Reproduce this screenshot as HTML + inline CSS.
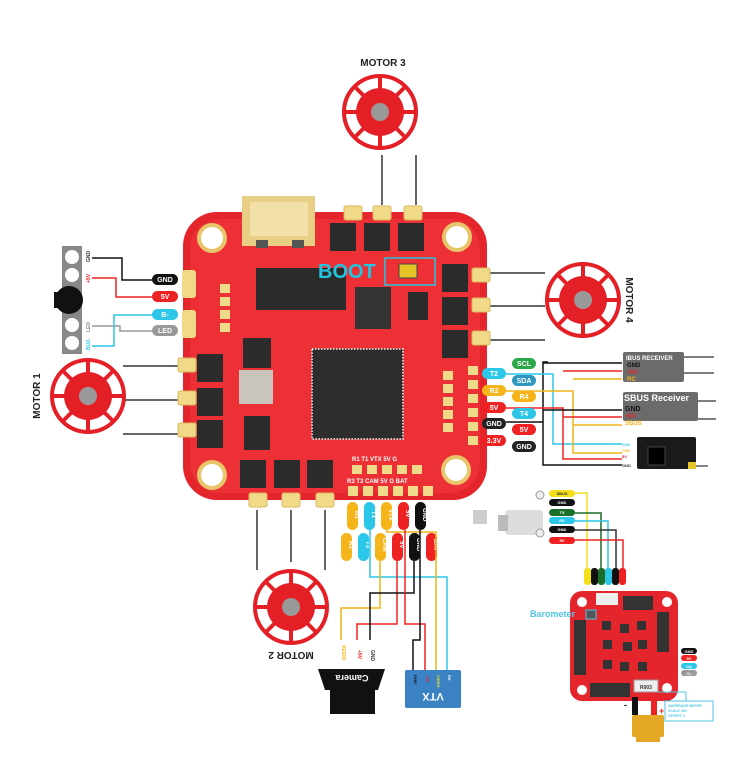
<!DOCTYPE html>
<html><head><meta charset="utf-8"><style>
html,body{margin:0;padding:0;background:#fff}
svg{display:block}
text{font-family:"Liberation Sans",sans-serif;font-weight:bold}
</style></head><body>
<svg width="753" height="758" viewBox="0 0 753 758" xmlns="http://www.w3.org/2000/svg">
<defs>
<g id="motor">
<circle r="36" fill="none" stroke="#e51f26" stroke-width="4"/>
<g stroke="#e51f26" stroke-width="4">
<line x1="0" y1="-36" x2="0" y2="36"/><line x1="-36" y1="0" x2="36" y2="0"/>
<line x1="-25" y1="-25" x2="25" y2="25"/><line x1="-25" y1="25" x2="25" y2="-25"/>
</g>
<circle r="24" fill="#e51f26"/>
<circle r="9" fill="#999"/>
</g>
<g id="pad"><rect x="-9" y="-7" width="18" height="14" rx="2" fill="#f1d98a" stroke="#d8b95a"/></g>
<g id="fet"><rect width="26" height="28" fill="#2b2b2b"/></g>
</defs>

<!-- Motors -->
<text x="383" y="66" font-size="10" text-anchor="middle" fill="#222">MOTOR 3</text>
<use href="#motor" x="380" y="112"/>
<line x1="382" y1="155" x2="382" y2="205" stroke="#333" stroke-width="1.5"/>
<line x1="416" y1="155" x2="416" y2="205" stroke="#333" stroke-width="1.5"/>

<use href="#motor" x="583" y="300"/>
<text transform="translate(626,300) rotate(90)" font-size="10" text-anchor="middle" fill="#222">MOTOR 4</text>
<g stroke="#333" stroke-width="1.5"><line x1="488" y1="273" x2="545" y2="273"/><line x1="488" y1="306" x2="545" y2="306"/><line x1="488" y1="340" x2="545" y2="340"/></g>

<use href="#motor" x="88" y="396"/>
<text transform="translate(40,396) rotate(-90)" font-size="10" text-anchor="middle" fill="#222">MOTOR 1</text>
<g stroke="#333" stroke-width="1.5"><line x1="123" y1="366" x2="185" y2="366"/><line x1="125" y1="400" x2="185" y2="400"/><line x1="123" y1="434" x2="185" y2="434"/></g>

<use href="#motor" x="291" y="607"/>
<text transform="translate(291,652) rotate(180)" font-size="10" text-anchor="middle" fill="#222">MOTOR 2</text>
<g stroke="#333" stroke-width="1.5"><line x1="257" y1="510" x2="257" y2="570"/><line x1="291" y1="510" x2="291" y2="562"/><line x1="325" y1="510" x2="325" y2="570"/></g>

<!-- Main board -->
<rect x="183" y="212" width="304" height="288" rx="34" fill="#e4252b"/>
<rect x="190" y="219" width="290" height="274" rx="30" fill="#ec3036"/>
<g fill="#fff" stroke="#e8c46a" stroke-width="4">
<circle cx="212" cy="238" r="13"/><circle cx="457" cy="237" r="13"/>
<circle cx="212" cy="475" r="13"/><circle cx="456" cy="470" r="13"/>
</g>
<!-- USB -->
<rect x="242" y="196" width="73" height="50" fill="#e9cf86"/>
<rect x="250" y="202" width="58" height="34" fill="#f3e0a8"/>
<rect x="256" y="240" width="12" height="8" fill="#555"/><rect x="292" y="240" width="12" height="8" fill="#555"/>
<!-- pads top -->
<use href="#pad" x="353" y="213"/><use href="#pad" x="382" y="213"/><use href="#pad" x="413" y="213"/>
<!-- pads right -->
<use href="#pad" x="481" y="275"/><use href="#pad" x="481" y="305"/><use href="#pad" x="481" y="338"/>
<!-- pads left -->
<use href="#pad" x="187" y="365"/><use href="#pad" x="187" y="398"/><use href="#pad" x="187" y="430"/>
<rect x="182" y="270" width="14" height="28" rx="3" fill="#f1d98a"/><rect x="182" y="310" width="14" height="28" rx="3" fill="#f1d98a"/>
<!-- pads bottom -->
<use href="#pad" x="258" y="500"/><use href="#pad" x="291" y="500"/><use href="#pad" x="325" y="500"/>
<!-- FETs -->
<use href="#fet" x="330" y="223"/><use href="#fet" x="364" y="223"/><use href="#fet" x="398" y="223"/>
<use href="#fet" x="442" y="264"/><use href="#fet" x="442" y="297"/><use href="#fet" x="442" y="330"/>
<use href="#fet" x="197" y="354"/><use href="#fet" x="197" y="388"/><use href="#fet" x="197" y="420"/>
<use href="#fet" x="240" y="460"/><use href="#fet" x="274" y="460"/><use href="#fet" x="307" y="460"/>
<!-- chips -->
<rect x="256" y="268" width="90" height="42" fill="#2b2b2b"/>
<rect x="355" y="287" width="36" height="42" fill="#333"/>
<rect x="312" y="349" width="91" height="90" fill="#2d2d2d" stroke="#ccc" stroke-width="2" stroke-dasharray="1.5 1.5"/>
<rect x="243" y="338" width="28" height="30" fill="#2b2b2b"/>
<rect x="239" y="370" width="34" height="34" fill="#c9c4bc"/>
<rect x="244" y="416" width="26" height="34" fill="#2b2b2b"/>
<rect x="408" y="292" width="20" height="28" fill="#2b2b2b"/>
<!-- pin pads -->
<g fill="#f1d98a">
<rect x="220" y="284" width="10" height="9"/><rect x="220" y="297" width="10" height="9"/><rect x="220" y="310" width="10" height="9"/><rect x="220" y="323" width="10" height="9"/>
<rect x="443" y="371" width="10" height="9"/><rect x="443" y="384" width="10" height="9"/><rect x="443" y="397" width="10" height="9"/><rect x="443" y="410" width="10" height="9"/><rect x="443" y="423" width="10" height="9"/>
<rect x="468" y="366" width="10" height="9"/><rect x="468" y="380" width="10" height="9"/><rect x="468" y="394" width="10" height="9"/><rect x="468" y="408" width="10" height="9"/><rect x="468" y="422" width="10" height="9"/><rect x="468" y="436" width="10" height="9"/>
<rect x="352" y="465" width="10" height="9"/><rect x="367" y="465" width="10" height="9"/><rect x="382" y="465" width="10" height="9"/><rect x="397" y="465" width="10" height="9"/><rect x="412" y="465" width="10" height="9"/>
<rect x="348" y="486" width="10" height="10"/><rect x="363" y="486" width="10" height="10"/><rect x="378" y="486" width="10" height="10"/><rect x="393" y="486" width="10" height="10"/><rect x="408" y="486" width="10" height="10"/><rect x="423" y="486" width="10" height="10"/>
</g>
<g font-size="6" fill="#fff" font-weight="normal">
<text x="352" y="461">R1  T1  VTX 5V  G</text>
<text x="347" y="483">R3  T3 CAM 5V  G  BAT</text>
</g>
<!-- BOOT -->
<text x="318" y="278" font-size="20" fill="#22c5e0" font-weight="bold">BOOT</text>
<rect x="385" y="258" width="50" height="27" fill="none" stroke="#22c5e0" stroke-width="1.5"/>
<rect x="399" y="264" width="18" height="14" fill="#e4c426" stroke="#444"/>

<!-- Left buzzer/LED -->
<rect x="62" y="246" width="20" height="108" fill="#888"/>
<g fill="#fff"><circle cx="72" cy="257" r="7"/><circle cx="72" cy="275" r="7"/><circle cx="72" cy="325" r="7"/><circle cx="72" cy="343" r="7"/></g>
<circle cx="69" cy="300" r="14" fill="#111"/><rect x="54" y="292" width="8" height="16" fill="#111"/>
<g font-size="5" fill="#333"><text transform="translate(90,262) rotate(-90)">GND</text></g>
<text transform="translate(90,283) rotate(-90)" font-size="5" fill="#e22">+5V</text>
<text transform="translate(90,332) rotate(-90)" font-size="5" fill="#888">LED</text>
<text transform="translate(90,350) rotate(-90)" font-size="5" fill="#2bc6e8">BUZ-</text>
<g fill="none" stroke-width="1.5">
<polyline points="92,258 122,258 122,280 152,280" stroke="#111"/>
<polyline points="92,278 116,278 116,297 152,297" stroke="#e22"/>
<polyline points="92,326 120,326 120,331 152,331" stroke="#999"/>
<polyline points="92,346 114,346 114,315 152,315" stroke="#2bc6e8"/>
</g>
<g font-size="7" text-anchor="middle" fill="#fff">
<rect x="152" y="274" width="26" height="11" rx="5.5" fill="#111"/><text x="165" y="282">GND</text>
<rect x="152" y="291" width="26" height="11" rx="5.5" fill="#e22"/><text x="165" y="299">5V</text>
<rect x="152" y="309" width="26" height="11" rx="5.5" fill="#2bc6e8"/><text x="165" y="317">B-</text>
<rect x="152" y="325" width="26" height="11" rx="5.5" fill="#999"/><text x="165" y="333">LED</text>
</g>

<!-- Right wiring -->
<g fill="none" stroke-width="1.5">
<polyline points="548,362 543,362 543,465 622,465" stroke="#111"/>
<polyline points="543,363 622,363" stroke="#111"/>
<polyline points="506,374 553,374 553,444 622,444" stroke="#2bc6e8"/>
<polyline points="506,391 573,391 573,453 622,453" stroke="#f4b41a"/>
<polyline points="573,379 622,379" stroke="#f4b41a"/>
<polyline points="573,425 622,425" stroke="#f4b41a"/>
<polyline points="506,408 563,408 563,459 622,459" stroke="#e22"/>
<polyline points="563,371 622,371" stroke="#e22"/>
<polyline points="563,417 622,417" stroke="#e22"/>
<polyline points="506,422 543,422" stroke="#111"/>
<polyline points="543,410 622,410" stroke="#111"/>
</g>
<g font-size="7" text-anchor="middle" fill="#fff">
<rect x="512" y="358" width="24" height="11" rx="5.5" fill="#2ba84a"/><text x="524" y="366">SCL</text>
<rect x="482" y="368" width="24" height="11" rx="5.5" fill="#2bc6e8"/><text x="494" y="376">T2</text>
<rect x="512" y="375" width="24" height="11" rx="5.5" fill="#2f97c0"/><text x="524" y="383">SDA</text>
<rect x="482" y="385" width="24" height="11" rx="5.5" fill="#f4b41a"/><text x="494" y="393">R2</text>
<rect x="512" y="391" width="24" height="11" rx="5.5" fill="#f4b41a"/><text x="524" y="399">R4</text>
<rect x="482" y="402" width="24" height="11" rx="5.5" fill="#e22"/><text x="494" y="410">5V</text>
<rect x="512" y="408" width="24" height="11" rx="5.5" fill="#2bc6e8"/><text x="524" y="416">T4</text>
<rect x="482" y="418" width="24" height="11" rx="5.5" fill="#222"/><text x="494" y="426">GND</text>
<rect x="512" y="424" width="24" height="11" rx="5.5" fill="#e22"/><text x="524" y="432">5V</text>
<rect x="482" y="435" width="24" height="11" rx="5.5" fill="#e22"/><text x="494" y="443">3.3V</text>
<rect x="512" y="441" width="24" height="11" rx="5.5" fill="#222"/><text x="524" y="449">GND</text>
</g>
<rect x="623" y="352" width="61" height="30" rx="2" fill="#6b6b6b"/>
<text x="626" y="360" font-size="6" fill="#fff">IBUS RECEIVER</text>
<text x="627" y="367" font-size="6" fill="#111">GND</text><text x="627" y="374" font-size="6" fill="#e22">+5V</text><text x="627" y="381" font-size="6" fill="#f4b41a">RC</text>
<rect x="623" y="392" width="75" height="29" rx="2" fill="#6b6b6b"/>
<text x="624" y="401" font-size="9" fill="#fff">SBUS Receiver</text>
<text x="625" y="411" font-size="7" fill="#111">GND</text><text x="625" y="418" font-size="6" fill="#e22">+5V</text><text x="625" y="425" font-size="6" fill="#f4b41a">SBUS</text>
<g stroke="#333" stroke-width="1.2"><line x1="684" y1="357" x2="714" y2="357"/><line x1="684" y1="373" x2="714" y2="373"/><line x1="698" y1="401" x2="716" y2="401"/><line x1="698" y1="419" x2="716" y2="419"/><line x1="696" y1="466" x2="708" y2="466"/></g>
<rect x="637" y="437" width="59" height="32" rx="2" fill="#1a1a1a"/>
<rect x="648" y="447" width="17" height="18" fill="#000" stroke="#444"/>
<rect x="688" y="462" width="8" height="7" fill="#e4c426"/>
<g font-size="4" font-weight="normal"><text x="622" y="446" fill="#2bc6e8">CH2</text><text x="622" y="452" fill="#f4b41a">CH1</text><text x="622" y="458" fill="#e22">5V</text><text x="622" y="467" fill="#333">GND</text></g>

<!-- Bottom pills -->
<g font-size="6" fill="#fff">
<rect x="347" y="502" width="11" height="28" rx="5.5" fill="#f4b41a"/><text transform="translate(355,511) rotate(90)">R1</text>
<rect x="364" y="502" width="11" height="28" rx="5.5" fill="#2bc6e8"/><text transform="translate(372,511) rotate(90)">T1</text>
<rect x="381" y="502" width="11" height="28" rx="5.5" fill="#f4b41a"/><text transform="translate(389,509) rotate(90)">VTX</text>
<rect x="398" y="502" width="11" height="28" rx="5.5" fill="#e22"/><text transform="translate(406,510) rotate(90)">5V</text>
<rect x="415" y="502" width="11" height="28" rx="5.5" fill="#111"/><text transform="translate(423,508) rotate(90)">GND</text>
<rect x="341" y="533" width="11" height="28" rx="5.5" fill="#f4b41a"/><text transform="translate(349,541) rotate(90)">R3</text>
<rect x="358" y="533" width="11" height="28" rx="5.5" fill="#2bc6e8"/><text transform="translate(366,541) rotate(90)">T3</text>
<rect x="375" y="533" width="11" height="28" rx="5.5" fill="#f4b41a"/><text transform="translate(383,538) rotate(90)">CAM</text>
<rect x="392" y="533" width="11" height="28" rx="5.5" fill="#e22"/><text transform="translate(400,541) rotate(90)">5V</text>
<rect x="409" y="533" width="11" height="28" rx="5.5" fill="#111"/><text transform="translate(417,538) rotate(90)">GND</text>
<rect x="426" y="533" width="11" height="28" rx="5.5" fill="#e22"/><text transform="translate(434,539) rotate(90)">BAT</text>
</g>
<g fill="none" stroke-width="1.5">
<polyline points="370,530 370,577 447,577 447,672" stroke="#2bc6e8"/>
<polyline points="387,530 387,532 436,532 436,672" stroke="#f4b41a"/>
<polyline points="380,561 380,608 341,608 341,640" stroke="#f4b41a"/>
<polyline points="397,561 397,624 357,624 357,640" stroke="#e22"/>
<polyline points="414,561 414,593 370,593 370,640" stroke="#111"/>
<polyline points="405,530 405,624 425,624 425,672" stroke="#e22"/>
<polyline points="420,530 420,640 413,640 413,672" stroke="#111"/>
</g>
<g font-size="5" font-weight="normal">
<text transform="translate(342,645) rotate(90)" fill="#f4b41a">VEDIO</text>
<text transform="translate(358,650) rotate(90)" fill="#e22">+5V</text>
<text transform="translate(371,650) rotate(90)" fill="#333">GND</text>
</g>
<!-- Camera -->
<polygon points="318,669 385,669 378,690 325,690" fill="#111"/>
<text transform="translate(352,675) rotate(180)" font-size="9" fill="#fff" text-anchor="middle">Camera</text>
<rect x="330" y="690" width="45" height="24" fill="#111"/>
<!-- VTX -->
<rect x="405" y="670" width="56" height="38" rx="2" fill="#3b82c4"/>
<text transform="translate(433,693) rotate(180)" font-size="11" fill="#fff" text-anchor="middle">VTX</text>
<g font-size="4" font-weight="normal"><text transform="translate(414,675) rotate(90)" fill="#111">GND</text><text transform="translate(426,675) rotate(90)" fill="#e22">+5V</text><text transform="translate(437,675) rotate(90)" fill="#f4e01a">VIDEO</text><text transform="translate(448,675) rotate(90)" fill="#fff">RX</text></g>

<!-- GPS module / wires -->
<rect x="505" y="510" width="38" height="25" rx="4" fill="#ddd"/><rect x="498" y="515" width="10" height="16" fill="#bbb"/><rect x="473" y="510" width="14" height="14" fill="#ccc"/>
<circle cx="540" cy="495" r="4" fill="#eee" stroke="#999"/><circle cx="540" cy="533" r="4" fill="#eee" stroke="#999"/>
<g fill="none" stroke-width="1.5">
<polyline points="575,493 587,493 587,582" stroke="#f4e01a"/>
<polyline points="575,513 601,513 601,582" stroke="#1a6e2a"/>
<polyline points="575,521 608,521 608,582" stroke="#2bc6e8"/>
<polyline points="575,530 616,530 616,582" stroke="#333"/>
<polyline points="575,540 623,540 623,582" stroke="#e22"/>
</g>
<g font-size="4" fill="#fff" text-anchor="middle">
<rect x="549" y="490" width="26" height="7" rx="3.5" fill="#f4e01a"/><text x="562" y="495" fill="#333">SBUS</text>
<rect x="549" y="499" width="26" height="7" rx="3.5" fill="#111"/><text x="562" y="504">GND</text>
<rect x="549" y="509" width="26" height="7" rx="3.5" fill="#1a6e2a"/><text x="562" y="514">TX</text>
<rect x="549" y="517" width="26" height="7" rx="3.5" fill="#2bc6e8"/><text x="562" y="522">RX</text>
<rect x="549" y="526" width="26" height="7" rx="3.5" fill="#111"/><text x="562" y="531">GND</text>
<rect x="549" y="537" width="26" height="7" rx="3.5" fill="#e22"/><text x="562" y="542">5V</text>
</g>
<g><rect x="584" y="568" width="7" height="17" rx="3" fill="#f4e01a"/><rect x="591" y="568" width="7" height="17" rx="3" fill="#111"/><rect x="598" y="568" width="7" height="17" rx="3" fill="#1a6e2a"/><rect x="605" y="568" width="7" height="17" rx="3" fill="#2bc6e8"/><rect x="612" y="568" width="7" height="17" rx="3" fill="#111"/><rect x="619" y="568" width="7" height="17" rx="3" fill="#e22"/></g>
<!-- mini board -->
<rect x="570" y="591" width="108" height="110" rx="12" fill="#e4252b"/>
<g fill="#fff"><circle cx="582" cy="602" r="5"/><circle cx="667" cy="602" r="5"/><circle cx="582" cy="690" r="5"/><circle cx="667" cy="688" r="5"/></g>
<rect x="596" y="593" width="22" height="12" fill="#eee"/>
<g fill="#333"><rect x="574" y="620" width="12" height="55"/><rect x="623" y="596" width="30" height="14"/><rect x="657" y="612" width="12" height="40"/><rect x="590" y="683" width="40" height="14"/>
<rect x="602" y="621" width="9" height="9"/><rect x="620" y="624" width="9" height="9"/><rect x="637" y="621" width="9" height="9"/><rect x="603" y="640" width="9" height="9"/><rect x="623" y="642" width="9" height="9"/><rect x="638" y="640" width="9" height="9"/><rect x="603" y="660" width="9" height="9"/><rect x="620" y="662" width="9" height="9"/><rect x="638" y="662" width="9" height="9"/></g>
<text x="530" y="617" font-size="9" fill="#4ec5e6" font-weight="normal" font-family="Liberation Mono">Barometer</text>
<rect x="586" y="610" width="10" height="9" fill="#555" stroke="#4ec5e6"/>
<rect x="634" y="680" width="24" height="12" fill="#eee" stroke="#999"/><text x="640" y="689" font-size="5" fill="#333">R003</text>
<g font-size="4" fill="#fff" text-anchor="middle"><rect x="681" y="648" width="16" height="6" rx="3" fill="#111"/><text x="689" y="653">GND</text><rect x="681" y="655" width="16" height="6" rx="3" fill="#e22"/><text x="689" y="660">5V</text><rect x="681" y="663" width="16" height="6" rx="3" fill="#2bc6e8"/><text x="689" y="668">DA</text><rect x="681" y="670" width="16" height="6" rx="3" fill="#999"/><text x="689" y="675">CL</text></g>
<rect x="632" y="697" width="6" height="18" fill="#111"/><rect x="651" y="697" width="6" height="18" fill="#e22"/>
<rect x="632" y="715" width="32" height="22" rx="2" fill="#e4a726"/><rect x="636" y="737" width="24" height="5" fill="#e4a726"/>
<text x="624" y="708" font-size="9" fill="#111">-</text><text x="659" y="714" font-size="9" fill="#e22">+</text>
<polyline points="658,692 686,692 686,701" fill="none" stroke="#4ec5e6"/>
<rect x="665" y="701" width="48" height="20" fill="#fff" stroke="#4ec5e6"/>
<g font-size="3.5" fill="#4ec5e6" font-weight="normal"><text x="668" y="707">AMPERAGE METER</text><text x="668" y="712">SCALE  400</text><text x="668" y="717">OFFSET  0</text></g>
</svg>
</body></html>
